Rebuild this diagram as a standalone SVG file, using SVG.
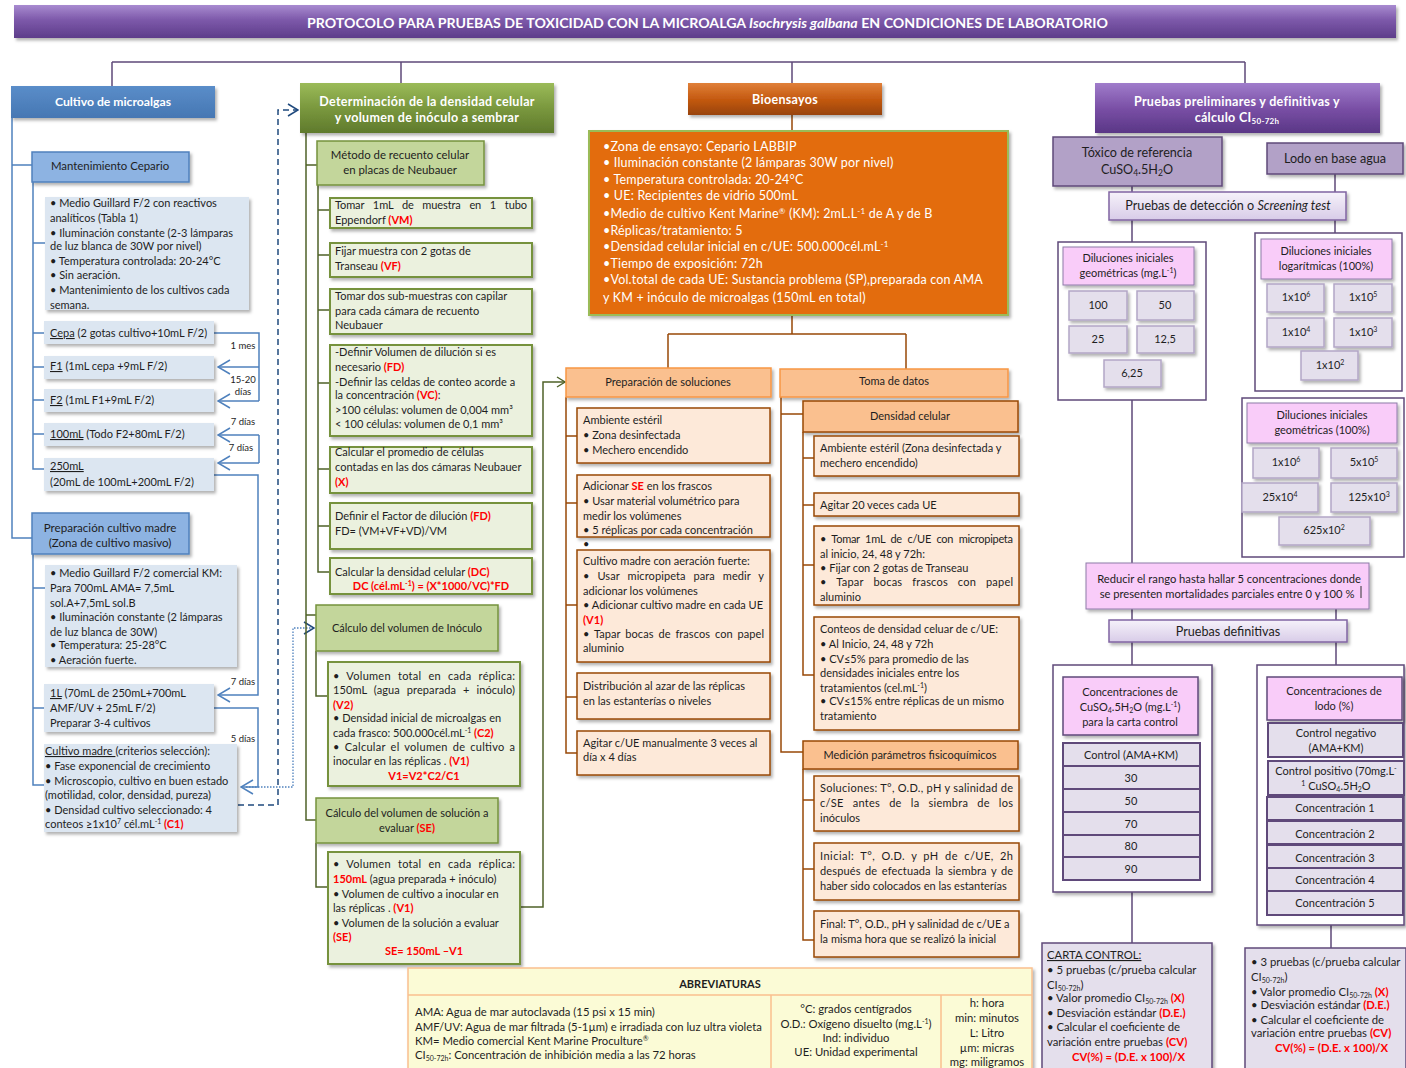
<svg xmlns="http://www.w3.org/2000/svg" width="1406" height="1068" viewBox="0 0 1406 1068">
<defs>
<linearGradient id="gTitle" x1="0" y1="0" x2="0" y2="1"><stop offset="0" stop-color="#a88bd0"/><stop offset="0.45" stop-color="#7d59aa"/><stop offset="1" stop-color="#5d3d8a"/></linearGradient>
<linearGradient id="gBlue" x1="0" y1="0" x2="0" y2="1"><stop offset="0" stop-color="#5a8dc9"/><stop offset="1" stop-color="#4677b3"/></linearGradient>
<linearGradient id="gGreen" x1="0" y1="0" x2="0" y2="1"><stop offset="0" stop-color="#9bbb59"/><stop offset="0.5" stop-color="#7a983e"/><stop offset="1" stop-color="#5f7a2c"/></linearGradient>
<linearGradient id="gBio" x1="0" y1="0" x2="0" y2="1"><stop offset="0" stop-color="#e0803a"/><stop offset="0.5" stop-color="#c55a11"/><stop offset="1" stop-color="#98430c"/></linearGradient>
<linearGradient id="gPur" x1="0" y1="0" x2="0" y2="1"><stop offset="0" stop-color="#a07ccb"/><stop offset="0.5" stop-color="#7a50a6"/><stop offset="1" stop-color="#5a3686"/></linearGradient>
<linearGradient id="gLav" x1="0" y1="0" x2="0" y2="1"><stop offset="0" stop-color="#f6f2fa"/><stop offset="1" stop-color="#d8cce8"/></linearGradient>
<filter id="sh" x="-10%" y="-10%" width="130%" height="150%"><feDropShadow dx="2" dy="2.5" stdDeviation="1.5" flood-color="#000" flood-opacity="0.3"/></filter>
<marker id="aB" viewBox="0 0 14 16" refX="13" refY="8" markerWidth="14" markerHeight="16" orient="auto" markerUnits="userSpaceOnUse"><path d="M1,1 L13,8 L1,15" fill="none" stroke="#4f81bd" stroke-width="1.5"/></marker>
<marker id="aD" viewBox="0 0 12 14" refX="11" refY="7" markerWidth="12" markerHeight="14" orient="auto" markerUnits="userSpaceOnUse"><path d="M1,1 L11,7 L1,13" fill="none" stroke="#1f497d" stroke-width="1.5"/></marker>
<marker id="aG" viewBox="0 0 10 12" refX="9" refY="6" markerWidth="10" markerHeight="12" orient="auto" markerUnits="userSpaceOnUse"><path d="M1,1 L9,6 L1,11" fill="none" stroke="#4f6228" stroke-width="1.4"/></marker>
</defs>
<style>
text{font-family:Lato,"Liberation Sans",sans-serif;font-size:11px;fill:#1e1e1e}
.c{text-anchor:middle}
.w{fill:#ffffff;font-weight:bold;font-size:12.5px;letter-spacing:0.3px}
.r{fill:#ff0000;font-weight:bold}
.sm{font-size:9.5px}
.hd{font-size:11.4px}
.pl{font-size:12.6px}
.ot{fill:#ffffff;font-size:12.5px;letter-spacing:0.2px}
.ab{font-size:11.3px}
.lb{fill:none;stroke:#4f81bd;stroke-width:1.5}
.lg{fill:none;stroke:#4f6228;stroke-width:1.5}
.lo{fill:none;stroke:#984807;stroke-width:1.5}
.lp{fill:none;stroke:#5f497a;stroke-width:1.5}
.bx1{fill:#dce6f1}
.bh{fill:#8db3e2;stroke:#4f81bd;stroke-width:1.5}
.gh{fill:#c3d69b;stroke:#76923c;stroke-width:1.5}
.gb{fill:#ebf1de;stroke:#76923c;stroke-width:2}
.oh{fill:#fac08f;stroke:#984807;stroke-width:1.5}
.ob{fill:#fde9d9;stroke:#984807;stroke-width:1.5}
.ph{fill:#b2a1c7;stroke:#5f497a;stroke-width:1.5}
.pk{fill:#f9ccf9;stroke:#8e7aa8;stroke-width:1}
.cl{fill:#e4dfec;stroke:#b3a6c6;stroke-width:1.5}
.cd{fill:#e4dfec;stroke:#5f497a;stroke-width:2}
.ct{fill:#ffffff;stroke:#5f497a;stroke-width:1.5}
</style>

<g id="title">
<rect x="14" y="5" width="1382" height="33" fill="url(#gTitle)" filter="url(#sh)"/>
<text x="307" y="28" style="font-size:14px;fill:#fff;font-weight:bold" textLength="801" lengthAdjust="spacingAndGlyphs">PROTOCOLO PARA PRUEBAS DE TOXICIDAD CON  LA MICROALGA <tspan font-style="italic">Isochrysis galbana</tspan> EN CONDICIONES DE LABORATORIO</text>
</g>

<g id="connectors">
<path class="lp" d="M112,62 H1245 M112,62 V86 M401,62 V83 M792,62 V83 M1245,62 V83"/>
<path class="lb" d="M12,118 V538 H32 M12,165 H32 M33,182 V469 H44 M33,243 H45 M33,333 H44 M33,367 H44 M33,400 H44 M33,434 H44"/>
<path class="lb" d="M33,554 V785 H44 M33,588 H45 M33,708 H44"/>
<path class="lb" d="M214,333 H259 V401"/>
<path class="lb" d="M259,367 H218" marker-end="url(#aB)"/>
<path class="lb" d="M259,401 H218" marker-end="url(#aB)"/>
<path class="lb" d="M259,435 V463"/>
<path class="lb" d="M259,435 H218" marker-end="url(#aB)"/>
<path class="lb" d="M259,463 H218" marker-end="url(#aB)"/>
<path class="lb" d="M214,475 H258 V695 H218" marker-end="url(#aB)"/>
<path class="lb" d="M214,708 H258 V787 H241" marker-end="url(#aB)"/>
<path d="M246,787 H293 V628 H314" fill="none" stroke="#4f81bd" stroke-width="1.3" stroke-dasharray="1.5,1.5" marker-end="url(#aD)"/>
<path d="M238,805 H278 V110 H298" fill="none" stroke="#1f497d" stroke-width="1.5" stroke-dasharray="6,4" marker-end="url(#aD)"/>
<text class="c sm" x="243" y="349">1 mes</text>
<text class="c sm" x="243" y="383">15-20</text>
<text class="c sm" x="243" y="395">días</text>
<text class="c sm" x="243" y="425">7 días</text>
<text class="c sm" x="241" y="451">7 días</text>
<text class="c sm" x="243" y="685">7 días</text>
<text class="c sm" x="243" y="742">5 días</text>
<path class="lg" d="M306,133 V820 H316 M306,165 H317 M306,615 H316"/>
<path class="lg" d="M318,185 V572 H330 M318,210 H330 M318,255 H330 M318,310 H330 M318,383 H330 M318,469 H330 M318,526 H330"/>
<path class="lg" d="M316,651 V696 H328 M316,843 V887 H328"/>
<path class="lg" d="M520,907 H543 V382 H565" marker-end="url(#aG)"/>
<path class="lo" d="M792,115 V131 M792,315 V334 M668,334 H906 M668,334 V368 M906,334 V369"/>
<path class="lo" d="M566,397 V753 H577 M566,436 H577 M566,503 H577 M566,605 H577 M566,697 H577"/>
<path class="lo" d="M781,397 V752 H803 M781,414 H803"/>
<path class="lo" d="M803,432 V675 H814 M803,458 H814 M803,505 H814 M803,565 H814"/>
<path class="lo" d="M803,769 V940 H814 M803,800 H814 M803,869 H814"/>
<path class="lp" d="M1132,186 V192 M1335,174 V192 M1132,220 V242 M1335,220 V233 M1132,400 V563 M1132,609 V620 M1336,609 V620 M1132,642 V665 M1336,642 V665 M1132,892 V943 M1331,915 V948"/>
</g>

<!-- LEFT COLUMN -->
<g id="cultivo"><rect x="11" y="86" width="204" height="32" fill="url(#gBlue)" filter="url(#sh)"/><text class="w c" x="113" y="106" style="font-size:12.2px;letter-spacing:0">Cultivo de microalgas</text></g>
<g id="mantenimiento"><rect class="bh" x="32" y="152" width="157" height="30" filter="url(#sh)"/><text class="c hd" x="110" y="170">Mantenimiento Cepario</text></g>
<g id="mant-texto"><rect class="bx1" x="45" y="197" width="204" height="113" filter="url(#sh)"/>
<text x="50" y="207">• Medio Guillard F/2 con reactivos</text>
<text x="50" y="222">analíticos (Tabla 1)</text>
<text x="50" y="237">• Iluminación constante (2-3 lámparas</text>
<text x="50" y="250">de luz blanca de 30W por nivel)</text>
<text x="50" y="265">• Temperatura controlada: 20-24°C</text>
<text x="50" y="279">• Sin aeración.</text>
<text x="50" y="294">• Mantenimiento de los cultivos cada</text>
<text x="50" y="309">semana.</text></g>
<g id="cepa"><rect class="bx1" x="44" y="321" width="170" height="23" filter="url(#sh)"/><text x="50" y="337"><tspan text-decoration="underline">Cepa</tspan> (2 gotas cultivo+10mL F/2)</text></g>
<g id="f1"><rect class="bx1" x="44" y="356" width="170" height="23" filter="url(#sh)"/><text x="50" y="370"><tspan text-decoration="underline">F1</tspan> (1mL cepa +9mL  F/2)</text></g>
<g id="f2"><rect class="bx1" x="44" y="389" width="170" height="23" filter="url(#sh)"/><text x="50" y="404"><tspan text-decoration="underline">F2</tspan> (1mL F1+9mL  F/2)</text></g>
<g id="m100"><rect class="bx1" x="44" y="423" width="170" height="23" filter="url(#sh)"/><text x="50" y="438"><tspan text-decoration="underline">100mL</tspan> (Todo F2+80mL  F/2)</text></g>
<g id="m250"><rect class="bx1" x="44" y="458" width="170" height="33" filter="url(#sh)"/><text x="50" y="470"><tspan text-decoration="underline">250mL</tspan></text><text x="50" y="486">(20mL de 100mL+200mL  F/2)</text></g>
<g id="preparacion"><rect class="bh" x="32" y="513" width="157" height="41" filter="url(#sh)"/><text class="c" x="110" y="532" style="font-size:11.6px">Preparación cultivo madre</text><text class="c" x="110" y="547" style="font-size:11.6px">(Zona de cultivo masivo)</text></g>
<g id="prep-texto"><rect class="bx1" x="45" y="565" width="192" height="102" filter="url(#sh)"/>
<text x="50" y="577">• Medio Guillard F/2  comercial KM:</text>
<text x="50" y="592">Para 700mL AMA= 7,5mL</text>
<text x="50" y="607">sol.A+7,5mL sol.B</text>
<text x="50" y="621">• Iluminación constante (2 lámparas</text>
<text x="50" y="636">de luz blanca de 30W)</text>
<text x="50" y="649">•  Temperatura: 25-28°C</text>
<text x="50" y="664">• Aeración fuerte.</text></g>
<g id="l1"><rect class="bx1" x="44" y="684" width="170" height="48" filter="url(#sh)"/>
<text x="50" y="697"><tspan text-decoration="underline">1L</tspan> (70mL de 250mL+700mL</text>
<text x="50" y="712">AMF/UV + 25mL F/2)</text>
<text x="50" y="727">Preparar 3-4 cultivos</text></g>
<g id="cultivo-madre"><rect class="bx1" x="44" y="744" width="193" height="88" filter="url(#sh)"/>
<text x="45" y="755"><tspan text-decoration="underline">Cultivo madre </tspan>(criterios selección):</text>
<text x="45" y="770">• Fase exponencial de crecimiento</text>
<text x="45" y="785">• Microscopio, cultivo en buen estado</text>
<text x="45" y="799">(motilidad, color, densidad, pureza)</text>
<text x="45" y="814">• Densidad cultivo seleccionado: 4</text>
<text x="45" y="828">conteos ≥1x10<tspan font-size="7" dy="-4">7</tspan><tspan dy="4"> cél.mL</tspan><tspan font-size="7" dy="-4">-1</tspan><tspan dy="4" class="r"> (C1)</tspan></text></g>

<!-- GREEN COLUMN -->
<g id="determinacion"><rect x="300" y="83" width="254" height="50" fill="url(#gGreen)" filter="url(#sh)"/><text class="w c" x="427" y="106">Determinación de la densidad celular</text><text class="w c" x="427" y="122">y volumen de inóculo a sembrar</text></g>
<g id="metodo"><rect class="gh" x="317" y="141" width="167" height="44" filter="url(#sh)"/><text class="c" x="400" y="159" style="font-size:11.4px">Método de recuento celular</text><text class="c" x="400" y="174" style="font-size:11.4px">en placas de Neubauer</text></g>
<g id="tomar1"><rect class="gb" x="330" y="198" width="202" height="30" filter="url(#sh)"/><text x="335" y="209" style="word-spacing:6px" textLength="192" lengthAdjust="spacing">Tomar 1mL de muestra en 1 tubo</text><text x="335" y="224">Eppendorf  <tspan class="r">(VM)</tspan></text></g>
<g id="fijar"><rect class="gb" x="330" y="243" width="202" height="34" filter="url(#sh)"/><text x="335" y="255">Fijar  muestra con  2 gotas de</text><text x="335" y="270">Transeau  <tspan class="r">(VF)</tspan></text></g>
<g id="tomar2"><rect class="gb" x="330" y="289" width="202" height="45" filter="url(#sh)"/><text x="335" y="300">Tomar  dos sub-muestras con capilar</text><text x="335" y="315">para cada cámara de recuento</text><text x="335" y="329">Neubauer</text></g>
<g id="definir-vol"><rect class="gb" x="330" y="345" width="202" height="91" filter="url(#sh)"/>
<text x="335" y="356">-Definir Volumen de dilución si es</text>
<text x="335" y="371">necesario <tspan class="r">(FD)</tspan></text>
<text x="335" y="386">-Definir las celdas de conteo acorde a</text>
<text x="335" y="399">la concentración <tspan class="r">(VC)</tspan>:</text>
<text x="335" y="414">&gt;100 células: volumen de 0,004 mm³</text>
<text x="335" y="428">&lt; 100 células: volumen de 0,1 mm³</text></g>
<g id="promedio"><rect class="gb" x="330" y="447" width="202" height="46" filter="url(#sh)"/><text x="335" y="456">Calcular el promedio  de células</text><text x="335" y="471">contadas en las dos cámaras Neubauer</text><text x="335" y="486" class="r">(X)</text></g>
<g id="factor"><rect class="gb" x="330" y="503" width="202" height="46" filter="url(#sh)"/><text x="335" y="520">Definir el Factor de dilución <tspan class="r">(FD)</tspan></text><text x="335" y="535">FD= (VM+VF+VD)/VM</text></g>
<g id="dc"><rect class="gb" x="330" y="558" width="202" height="36" filter="url(#sh)"/><text x="335" y="576">Calcular  la densidad celular <tspan class="r">(DC)</tspan></text><text class="c r" x="431" y="590">DC (cél.mL<tspan font-size="7" dy="-4">-1</tspan><tspan dy="4">) = (X*1000/VC)*FD</tspan></text></g>
<g id="inoculo"><rect class="gh" x="316" y="605" width="182" height="46" filter="url(#sh)"/><text class="c" x="407" y="632">Cálculo del volumen de Inóculo</text></g>
<g id="inoculo-texto"><rect class="gb" x="328" y="662" width="192" height="124" filter="url(#sh)"/>
<text x="333" y="680" style="word-spacing:4px" textLength="182" lengthAdjust="spacing">• Volumen total en cada réplica:</text>
<text x="333" y="694" style="word-spacing:4px" textLength="182" lengthAdjust="spacing">150mL (agua preparada + inóculo)</text>
<text x="333" y="709" class="r">(V2)</text>
<text x="333" y="722">• Densidad inicial de microalgas en</text>
<text x="333" y="737">cada frasco: 500.000cél.mL<tspan font-size="7" dy="-4">-1</tspan><tspan dy="4" class="r"> (C2)</tspan></text>
<text x="333" y="751" style="word-spacing:2px" textLength="182" lengthAdjust="spacing">• Calcular el volumen de cultivo a</text>
<text x="333" y="765">inocular en las réplicas . <tspan class="r">(V1)</tspan></text>
<text x="424" y="780" class="c r">V1=V2*C2/C1</text></g>
<g id="se"><rect class="gh" x="316" y="798" width="182" height="45" filter="url(#sh)"/><text class="c" x="407" y="817">Cálculo del volumen de solución a</text><text class="c" x="407" y="832">evaluar <tspan class="r">(SE)</tspan></text></g>
<g id="se-texto"><rect class="gb" x="328" y="852" width="192" height="112" filter="url(#sh)"/>
<text x="333" y="868" style="word-spacing:4px" textLength="182" lengthAdjust="spacing">• Volumen total en cada réplica:</text>
<text x="333" y="883"><tspan class="r">150mL</tspan> (agua preparada + inóculo)</text>
<text x="333" y="898">• Volumen de cultivo  a inocular en</text>
<text x="333" y="912">las réplicas . <tspan class="r">(V1)</tspan></text>
<text x="333" y="927">• Volumen de la solución a evaluar</text>
<text x="333" y="941" class="r">(SE)</text>
<text x="424" y="955" class="c r">SE= 150mL –V1</text></g>

<!-- ORANGE COLUMN -->
<g id="bioensayos"><rect x="688" y="83" width="194" height="32" fill="url(#gBio)" filter="url(#sh)"/><text class="w c" x="785" y="104">Bioensayos</text></g>
<g id="bio-texto"><rect x="589" y="131" width="419" height="184" fill="#e36c09" stroke="#9bbb59" stroke-width="2" filter="url(#sh)"/>
<text x="603" y="151" class="ot">•Zona de ensayo: Cepario  LABBIP</text>
<text x="603" y="167" class="ot">• Iluminación  constante (2 lámparas  30W por nivel)</text>
<text x="603" y="184" class="ot">• Temperatura controlada:  20-24°C</text>
<text x="603" y="200" class="ot">• UE: Recipientes de vidrio 500mL</text>
<text x="603" y="218" class="ot">•Medio de cultivo  Kent Marine<tspan font-size="8" dy="-4">®</tspan><tspan dy="4"> (KM): 2mL.L</tspan><tspan font-size="8" dy="-4">-1</tspan><tspan dy="4"> de A y de B</tspan></text>
<text x="603" y="235" class="ot">•Réplicas/tratamiento: 5</text>
<text x="603" y="251" class="ot">•Densidad  celular inicial  en c/UE: 500.000cél.mL<tspan font-size="8" dy="-4">-1</tspan></text>
<text x="603" y="268" class="ot">•Tiempo de exposición: 72h</text>
<text x="603" y="284" class="ot">•Vol.total de cada UE: Sustancia problema (SP),preparada  con AMA</text>
<text x="603" y="302" class="ot">y KM + inóculo de microalgas  (150mL en total)</text>
</g>
<g id="prep-soluciones"><rect x="566" y="368" width="205" height="29" fill="#fac08f" stroke="#f79646" stroke-width="1.5" filter="url(#sh)"/><text class="c" x="668" y="386">Preparación de soluciones</text></g>
<g id="ambiente1"><rect class="ob" x="577" y="408" width="193" height="55" filter="url(#sh)"/><text x="583" y="424">Ambiente estéril</text><text x="583" y="439">• Zona desinfectada</text><text x="583" y="454">• Mechero encendido</text></g>
<g id="adicionar"><rect class="ob" x="577" y="475" width="193" height="62" filter="url(#sh)"/><text x="583" y="490">Adicionar <tspan class="r">SE</tspan> en los frascos</text><text x="583" y="505">• Usar material volumétrico para</text><text x="583" y="520">medir los volúmenes</text><text x="583" y="534">• 5 réplicas por  cada concentración</text></g>
<text x="583" y="548">•</text>
<g id="cultivo-aeracion"><rect class="ob" x="577" y="550" width="193" height="112" filter="url(#sh)"/>
<text x="583" y="565">Cultivo madre con aeración fuerte:</text>
<text x="583" y="580" style="word-spacing:5px" textLength="181" lengthAdjust="spacing">• Usar micropipeta para medir y</text>
<text x="583" y="595">adicionar los volúmenes</text>
<text x="583" y="609">• Adicionar cultivo madre en cada UE</text>
<text x="583" y="624" class="r">(V1)</text>
<text x="583" y="638" style="word-spacing:2px" textLength="181" lengthAdjust="spacing">• Tapar bocas de frascos con papel</text>
<text x="583" y="652">aluminio</text></g>
<g id="distribucion"><rect class="ob" x="577" y="673" width="193" height="46" filter="url(#sh)"/><text x="583" y="690">Distribución al azar  de las réplicas</text><text x="583" y="705">en las estanterías o niveles</text></g>
<g id="agitar1"><rect class="ob" x="577" y="731" width="193" height="44" filter="url(#sh)"/><text x="583" y="747">Agitar  c/UE manualmente 3 veces al</text><text x="583" y="761">día x 4 días</text></g>

<g id="toma-datos"><rect x="780" y="369" width="228" height="28" fill="#fac08f" stroke="#f79646" stroke-width="1.5" filter="url(#sh)"/><text class="c" x="894" y="385">Toma de  datos</text></g>
<g id="densidad"><rect class="oh" x="803" y="401" width="215" height="31" filter="url(#sh)"/><text class="c" x="910" y="420">Densidad celular</text></g>
<g id="ambiente2"><rect class="ob" x="814" y="436" width="205" height="40" filter="url(#sh)"/><text x="820" y="452">Ambiente estéril (Zona desinfectada y</text><text x="820" y="467">mechero encendido)</text></g>
<g id="agitar20"><rect class="ob" x="814" y="493" width="205" height="23" filter="url(#sh)"/><text x="820" y="509">Agitar 20 veces cada UE</text></g>
<g id="tomar-ue"><rect class="ob" x="814" y="526" width="205" height="79" filter="url(#sh)"/>
<text x="820" y="543" style="word-spacing:3px" textLength="193" lengthAdjust="spacing">• Tomar 1mL de c/UE con micropipeta</text>
<text x="820" y="558">al inicio, 24, 48 y 72h:</text>
<text x="820" y="572">• Fijar con 2 gotas de Transeau</text>
<text x="820" y="586" style="word-spacing:7px" textLength="193" lengthAdjust="spacing">• Tapar bocas frascos con papel</text>
<text x="820" y="601">aluminio</text></g>
<g id="conteos"><rect class="ob" x="814" y="617" width="205" height="113" filter="url(#sh)"/>
<text x="820" y="633">Conteos de densidad celuar  de c/UE:</text>
<text x="820" y="648">•  Al Inicio, 24, 48 y 72h</text>
<text x="820" y="663">• CV≤5% para promedio de las</text>
<text x="820" y="677">densidades iniciales entre los</text>
<text x="820" y="692">tratamientos (cel.mL<tspan font-size="7" dy="-4">-1</tspan><tspan dy="4">)</tspan></text>
<text x="820" y="705">• CV≤15% entre réplicas de un mismo</text>
<text x="820" y="720">tratamiento</text></g>
<g id="medicion"><rect class="oh" x="803" y="741" width="215" height="28" filter="url(#sh)"/><text class="c" x="910" y="759">Medición parámetros fisicoquímicos</text></g>
<g id="soluciones"><rect class="ob" x="814" y="776" width="205" height="55" filter="url(#sh)"/>
<text x="820" y="792" textLength="193" lengthAdjust="spacing">Soluciones: T°, O.D., pH y salinidad de</text>
<text x="820" y="807" style="word-spacing:6px" textLength="193" lengthAdjust="spacing">c/SE antes de la siembra de los</text>
<text x="820" y="822">inóculos</text></g>
<g id="inicial"><rect class="ob" x="814" y="843" width="205" height="57" filter="url(#sh)"/>
<text x="820" y="860" style="word-spacing:3px" textLength="193" lengthAdjust="spacing">Inicial: T°, O.D. y pH de c/UE, 2h</text>
<text x="820" y="875" style="word-spacing:1.5px" textLength="193" lengthAdjust="spacing">después de efectuada la siembra y de</text>
<text x="820" y="890">haber sido colocados en las estanterías</text></g>
<g id="final"><rect class="ob" x="814" y="911" width="205" height="46" filter="url(#sh)"/>
<text x="820" y="928">Final: T°, O.D., pH y salinidad de c/UE a</text>
<text x="820" y="943">la misma hora que se realizó la inicial</text></g>

<!-- PURPLE COLUMN -->
<g id="pruebas"><rect x="1095" y="83" width="285" height="50" fill="url(#gPur)" filter="url(#sh)"/><text class="w c" x="1237" y="106">Pruebas preliminares  y definitivas  y</text><text class="w c" x="1237" y="122">cálculo CI<tspan font-size="8" dy="2">50-72h</tspan></text></g>
<g id="toxico"><rect class="ph" x="1053" y="137" width="169" height="49" filter="url(#sh)"/><text class="c pl" x="1137" y="157">Tóxico de referencia</text><text class="c pl" x="1137" y="174">CuSO<tspan font-size="8.5" dy="2">4</tspan><tspan dy="-2">.5H</tspan><tspan font-size="8.5" dy="2">2</tspan><tspan dy="-2">O</tspan></text></g>
<g id="lodo"><rect class="ph" x="1267" y="143" width="136" height="31" filter="url(#sh)"/><text class="c pl" x="1335" y="163">Lodo en base agua</text></g>
<g id="deteccion"><rect x="1109" y="192" width="237" height="28" fill="url(#gLav)" stroke="#8064a2" stroke-width="1.5" filter="url(#sh)"/><text class="c pl" x="1228" y="210">Pruebas de detección o <tspan font-style="italic">Screening test</tspan></text></g>

<g id="geom-mg"><rect class="ct" x="1058" y="242" width="148" height="158"/>
<rect class="pk" x="1063" y="247" width="131" height="38" filter="url(#sh)"/><text class="c" x="1128" y="262">Diluciones iniciales</text><text class="c" x="1128" y="277">geométricas (mg.L<tspan font-size="7" dy="-4">-1</tspan><tspan dy="4">)</tspan></text>
<rect class="cl" x="1069" y="291" width="58" height="29" filter="url(#sh)"/><text class="c" x="1098" y="309">100</text>
<rect class="cl" x="1137" y="291" width="57" height="29" filter="url(#sh)"/><text class="c" x="1165" y="309">50</text>
<rect class="cl" x="1069" y="326" width="58" height="27" filter="url(#sh)"/><text class="c" x="1098" y="343">25</text>
<rect class="cl" x="1137" y="326" width="57" height="27" filter="url(#sh)"/><text class="c" x="1165" y="343">12,5</text>
<rect class="cl" x="1104" y="360" width="57" height="27" filter="url(#sh)"/><text class="c" x="1132" y="377">6,25</text></g>

<g id="log"><rect class="ct" x="1255" y="233" width="147" height="158"/>
<rect class="pk" x="1261" y="239" width="131" height="40" filter="url(#sh)"/><text class="c" x="1326" y="255">Diluciones iniciales</text><text class="c" x="1326" y="270">logarítmicas (100%)</text>
<rect class="cl" x="1267" y="284" width="57" height="28" filter="url(#sh)"/><text class="c" x="1296" y="301">1x10<tspan font-size="7" dy="-4">6</tspan></text>
<rect class="cl" x="1334" y="284" width="58" height="28" filter="url(#sh)"/><text class="c" x="1363" y="301">1x10<tspan font-size="7" dy="-4">5</tspan></text>
<rect class="cl" x="1267" y="318" width="57" height="29" filter="url(#sh)"/><text class="c" x="1296" y="336">1x10<tspan font-size="7" dy="-4">4</tspan></text>
<rect class="cl" x="1334" y="318" width="58" height="29" filter="url(#sh)"/><text class="c" x="1363" y="336">1x10<tspan font-size="7" dy="-4">3</tspan></text>
<rect class="cl" x="1301" y="351" width="57" height="29" filter="url(#sh)"/><text class="c" x="1330" y="369">1x10<tspan font-size="7" dy="-4">2</tspan></text></g>

<g id="geom-pct"><rect class="ct" x="1242" y="398" width="162" height="159"/>
<rect class="pk" x="1247" y="403" width="150" height="40" filter="url(#sh)"/><text class="c" x="1322" y="419">Diluciones iniciales</text><text class="c" x="1322" y="434">geométricas (100%)</text>
<rect class="cl" x="1253" y="448" width="66" height="30" filter="url(#sh)"/><text class="c" x="1286" y="466">1x10<tspan font-size="7" dy="-4">6</tspan></text>
<rect class="cl" x="1331" y="448" width="66" height="30" filter="url(#sh)"/><text class="c" x="1364" y="466">5x10<tspan font-size="7" dy="-4">5</tspan></text>
<rect class="cl" x="1242" y="483" width="76" height="29" filter="url(#sh)"/><text class="c" x="1280" y="501">25x10<tspan font-size="7" dy="-4">4</tspan></text>
<rect class="cl" x="1331" y="483" width="66" height="29" filter="url(#sh)"/><text class="c" x="1369" y="501">125x10<tspan font-size="7" dy="-4">3</tspan></text>
<rect class="cl" x="1279" y="517" width="91" height="28" filter="url(#sh)"/><text class="c" x="1324" y="534">625x10<tspan font-size="7" dy="-4">2</tspan></text></g>

<g id="reducir"><rect class="pk" x="1086" y="563" width="283" height="46" filter="url(#sh)"/><text class="c" x="1229" y="583" style="font-size:11.2px">Reducir el rango hasta hallar 5 concentraciones donde</text><text class="c" x="1227" y="598" style="font-size:11.2px">se presenten mortalidades parciales entre 0 y 100 %</text><line x1="1361" y1="586" x2="1361" y2="598" stroke="#333" stroke-width="1"/></g>
<g id="definitivas"><rect x="1109" y="620" width="238" height="22" fill="url(#gLav)" stroke="#8064a2" stroke-width="1.5" filter="url(#sh)"/><text class="c pl" x="1228" y="636">Pruebas definitivas</text></g>

<g id="conc-cuso4"><rect class="ct" x="1053" y="665" width="159" height="227" filter="url(#sh)"/>
<rect x="1063" y="677" width="135" height="58" fill="#f9ccf9" stroke="#5f497a" stroke-width="1.5" filter="url(#sh)"/>
<text class="c" x="1130" y="696">Concentraciones de</text>
<text class="c" x="1130" y="711">CuSO<tspan font-size="7" dy="2">4</tspan><tspan dy="-2">.5H</tspan><tspan font-size="7" dy="2">2</tspan><tspan dy="-2">O (mg.L</tspan><tspan font-size="7" dy="-4">-1</tspan><tspan dy="4">)</tspan></text>
<text class="c" x="1130" y="726">para la carta control</text>
<rect class="cd" x="1063" y="743" width="137" height="23"/><text class="c" x="1131" y="759">Control (AMA+KM)</text>
<rect class="cd" x="1063" y="766" width="137" height="23"/><text class="c" x="1131" y="782">30</text>
<rect class="cd" x="1063" y="789" width="137" height="23"/><text class="c" x="1131" y="805">50</text>
<rect class="cd" x="1063" y="812" width="137" height="23"/><text class="c" x="1131" y="828">70</text>
<rect class="cd" x="1063" y="835" width="137" height="22"/><text class="c" x="1131" y="850">80</text>
<rect class="cd" x="1063" y="857" width="137" height="23"/><text class="c" x="1131" y="873">90</text></g>

<g id="conc-lodo"><rect class="ct" x="1257" y="665" width="147" height="260" filter="url(#sh)"/>
<rect x="1267" y="677" width="135" height="43" fill="#f9ccf9" stroke="#5f497a" stroke-width="1.5" filter="url(#sh)"/>
<text class="c" x="1334" y="695">Concentraciones de</text><text class="c" x="1334" y="710">lodo (%)</text>
<rect class="cd" x="1268" y="723" width="135" height="34"/><text class="c" x="1336" y="737">Control negativo</text><text class="c" x="1336" y="752">(AMA+KM)</text>
<rect class="cd" x="1268" y="761" width="136" height="34"/><text class="c" x="1336" y="775">Control  positivo (70mg.L<tspan font-size="7" dy="-4">-</tspan></text><text class="c" x="1336" y="790"><tspan font-size="7" dy="-4">1</tspan><tspan dy="4"> CuSO</tspan><tspan font-size="7" dy="2">4</tspan><tspan dy="-2">.5H</tspan><tspan font-size="7" dy="2">2</tspan><tspan dy="-2">O</tspan></text>
<rect class="cd" x="1267" y="797" width="136" height="23"/><text class="c" x="1335" y="812">Concentración 1</text>
<rect class="cd" x="1267" y="821" width="136" height="23"/><text class="c" x="1335" y="838">Concentración 2</text>
<rect class="cd" x="1267" y="845" width="136" height="23"/><text class="c" x="1335" y="862">Concentración 3</text>
<rect class="cd" x="1267" y="868" width="136" height="23"/><text class="c" x="1335" y="884">Concentración 4</text>
<rect class="cd" x="1267" y="891" width="136" height="24"/><text class="c" x="1335" y="907">Concentración 5</text></g>

<g id="carta"><rect x="1042" y="943" width="170" height="132" fill="#e4dfec" stroke="#5f497a" stroke-width="1.5" filter="url(#sh)"/>
<text x="1047" y="959" class="ab" text-decoration="underline">CARTA CONTROL:</text>
<text x="1047" y="974" class="ab">•  5 pruebas (c/prueba calcular</text>
<text x="1047" y="989" class="ab">CI<tspan font-size="7" dy="2">50-72h</tspan><tspan dy="-2">)</tspan></text>
<text x="1047" y="1002" class="ab">•  Valor promedio CI<tspan font-size="7" dy="2">50-72h</tspan><tspan dy="-2" class="r"> (X)</tspan></text>
<text x="1047" y="1017" class="ab">•  Desviación estándar  <tspan class="r">(D.E.)</tspan></text>
<text x="1047" y="1031" class="ab">•  Calcular el coeficiente de</text>
<text x="1047" y="1046" class="ab">variación entre pruebas <tspan class="r">(CV)</tspan></text>
<text x="1072" y="1061" class="r ab">CV(%) = (D.E. x 100)/X</text></g>

<g id="resumen-lodo"><rect x="1245" y="948" width="161" height="127" fill="#e4dfec" stroke="#5f497a" stroke-width="1.5" filter="url(#sh)"/>
<text x="1251" y="966" class="ab">• 3 pruebas (c/prueba calcular</text>
<text x="1251" y="981" class="ab">CI<tspan font-size="7" dy="2">50-72h</tspan><tspan dy="-2">)</tspan></text>
<text x="1251" y="996" class="ab">•  Valor promedio CI<tspan font-size="7" dy="2">50-72h</tspan><tspan dy="-2" class="r"> (X)</tspan></text>
<text x="1251" y="1009" class="ab">•  Desviación estándar  <tspan class="r">(D.E.)</tspan></text>
<text x="1251" y="1024" class="ab">•  Calcular el coeficiente de</text>
<text x="1251" y="1037" class="ab">variación entre pruebas <tspan class="r">(CV)</tspan></text>
<text x="1275" y="1052" class="r ab">CV(%) = (D.E. x 100)/X</text></g>

<!-- ABREVIATURAS -->
<g id="abreviaturas"><rect x="408" y="968" width="624" height="105" fill="#fbfbd6" stroke="#fac08f" stroke-width="1.5" filter="url(#sh)"/>
<path d="M408,995 H1032 M771,995 V1068 M941,995 V1068" fill="none" stroke="#fac08f" stroke-width="1.5"/>
<text class="c" x="720" y="988" style="font-weight:bold">ABREVIATURAS</text>
<text x="415" y="1016" class="ab">AMA: Agua de mar autoclavada (15 psi x 15 min)</text>
<text x="415" y="1031" class="ab">AMF/UV: Agua de mar filtrada (5-1µm) e irradiada con luz ultra violeta</text>
<text x="415" y="1045" class="ab">KM= Medio comercial Kent Marine Proculture<tspan font-size="7" dy="-4">®</tspan></text>
<text x="415" y="1059" class="ab">CI<tspan font-size="7" dy="2">50-72h</tspan><tspan dy="-2">: Concentración de inhibición media a las 72 horas</tspan></text>
<text class="c ab" x="856" y="1013">°C: grados centígrados</text>
<text class="c ab" x="856" y="1028">O.D.: Oxígeno disuelto (mg.L<tspan font-size="7" dy="-4">-1</tspan><tspan dy="4">)</tspan></text>
<text class="c ab" x="856" y="1042">Ind: individuo</text>
<text class="c ab" x="856" y="1056">UE: Unidad experimental</text>
<text class="c ab" x="987" y="1007">h: hora</text>
<text class="c ab" x="987" y="1022">min: minutos</text>
<text class="c ab" x="987" y="1037">L: Litro</text>
<text class="c ab" x="987" y="1052">µm: micras</text>
<text class="c ab" x="987" y="1066">mg: miligramos</text></g>
</svg>
